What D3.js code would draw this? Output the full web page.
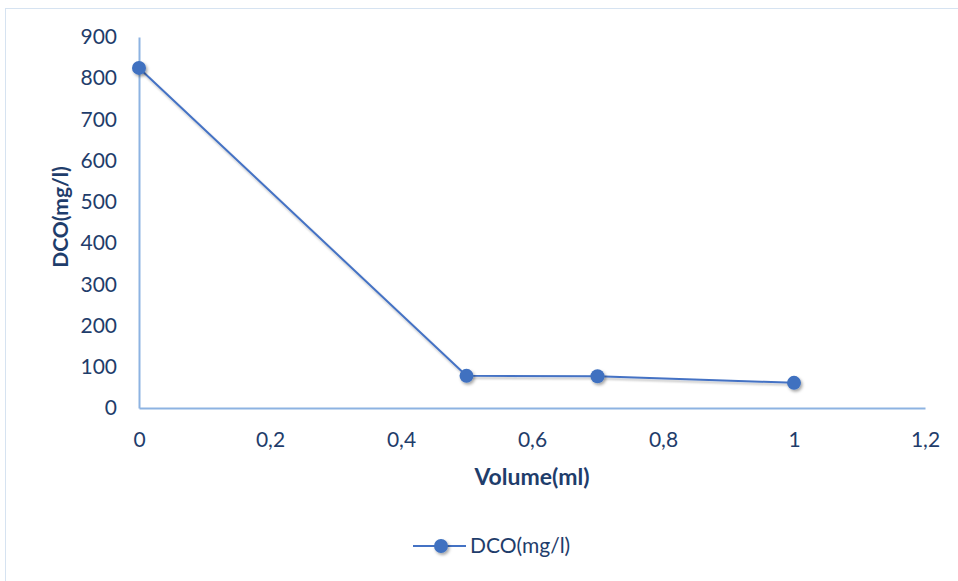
<!DOCTYPE html>
<html><head><meta charset="utf-8">
<script src="https://cdn.jsdelivr.net/npm/d3@7"></script>
<style>
html,body{margin:0;padding:0;background:#fff;}
svg{display:block;}
</style></head>
<body>
<svg id="chart" width="958" height="581"></svg>
<script>
const volumes = [0, 0.5, 0.7, 1];
const dco = [825, 78, 77, 61];
const xTicks = [0, 0.2, 0.4, 0.6, 0.8, 1, 1.2];
const yTicks = [0, 100, 200, 300, 400, 500, 600, 700, 800, 900];
const seriesName = "DCO(mg/l)";
const xTitle = "Volume(ml)";
const yTitle = "DCO(mg/l)";

const svg = d3.select("#chart");
const W = 958, H = 581;
const lineColor = "#4472c4", markerColor = "#3f71c0", axisColor = "#8db3e2", textColor = "#1f3d6b";
const font = "Lato, 'Open Sans', sans-serif";

const defs = svg.append("defs");
const f = defs.append("filter").attr("id","sh").attr("x","-50%").attr("y","-50%").attr("width","200%").attr("height","200%");
f.append("feDropShadow").attr("dx",1.5).attr("dy",2).attr("stdDeviation",1.5).attr("flood-color","#000").attr("flood-opacity",0.35);
const fl = defs.append("filter").attr("id","shl").attr("x","-10%").attr("y","-10%").attr("width","120%").attr("height","120%");
fl.append("feDropShadow").attr("dx",1).attr("dy",2).attr("stdDeviation",1.2).attr("flood-color","#000").attr("flood-opacity",0.25);

// frame
svg.append("rect").attr("x",5.5).attr("y",8.5).attr("width",W+10).attr("height",H+10)
  .attr("fill","none").attr("stroke","#d6e3f1").attr("stroke-width",1);

const x = d3.scaleLinear().domain([0,1.2]).range([139,925]);
const y = d3.scaleLinear().domain([0,900]).range([408,37]);

// axes
const xAxis = svg.append("g").attr("transform",`translate(0,${y(0)})`)
  .call(d3.axisBottom(x).tickValues(xTicks).tickSize(0).tickPadding(24)
    .tickFormat(d => String(+d.toFixed(1)).replace(".", ",")));
xAxis.select(".domain").attr("stroke",axisColor).attr("stroke-width",2);
xAxis.selectAll("text").attr("fill",textColor).style("font-family",font).style("font-size","21px");

const yAxis = svg.append("g").attr("transform",`translate(${x(0)},0)`)
  .call(d3.axisLeft(y).tickValues(yTicks).tickSize(0).tickPadding(22));
yAxis.select(".domain").attr("stroke",axisColor).attr("stroke-width",2);
yAxis.selectAll("text").attr("fill",textColor).style("font-family",font).style("font-size","21px");

// titles
svg.append("text").attr("x",532).attr("y",485).attr("text-anchor","middle")
  .attr("fill",textColor).style("font-family",font).style("font-weight","bold").style("font-size","23px").text(xTitle);
svg.append("text").attr("transform","translate(68,217) rotate(-90)").attr("text-anchor","middle")
  .attr("fill",textColor).style("font-family",font).style("font-weight","bold").style("font-size","21px").text(yTitle);

// series
const pts = volumes.map((v,i)=>[v,dco[i]]);
svg.append("path").datum(pts)
  .attr("d", d3.line().x(d=>x(d[0])).y(d=>y(d[1])))
  .attr("fill","none").attr("stroke",lineColor).attr("stroke-width",2).attr("filter","url(#shl)");
svg.selectAll("circle.pt").data(pts).join("circle").attr("class","pt")
  .attr("cx",d=>x(d[0])).attr("cy",d=>y(d[1])).attr("r",7)
  .attr("fill",markerColor).attr("filter","url(#sh)");

// legend
const lg = svg.append("g");
lg.append("line").attr("x1",413).attr("x2",466).attr("y1",546).attr("y2",546)
  .attr("stroke",lineColor).attr("stroke-width",2);
lg.append("circle").attr("cx",441).attr("cy",546).attr("r",7).attr("fill",markerColor).attr("filter","url(#sh)");
lg.append("text").attr("x",470).attr("y",553).attr("fill",textColor)
  .style("font-family",font).style("font-size","21px").text(seriesName);
</script>
</body></html>
